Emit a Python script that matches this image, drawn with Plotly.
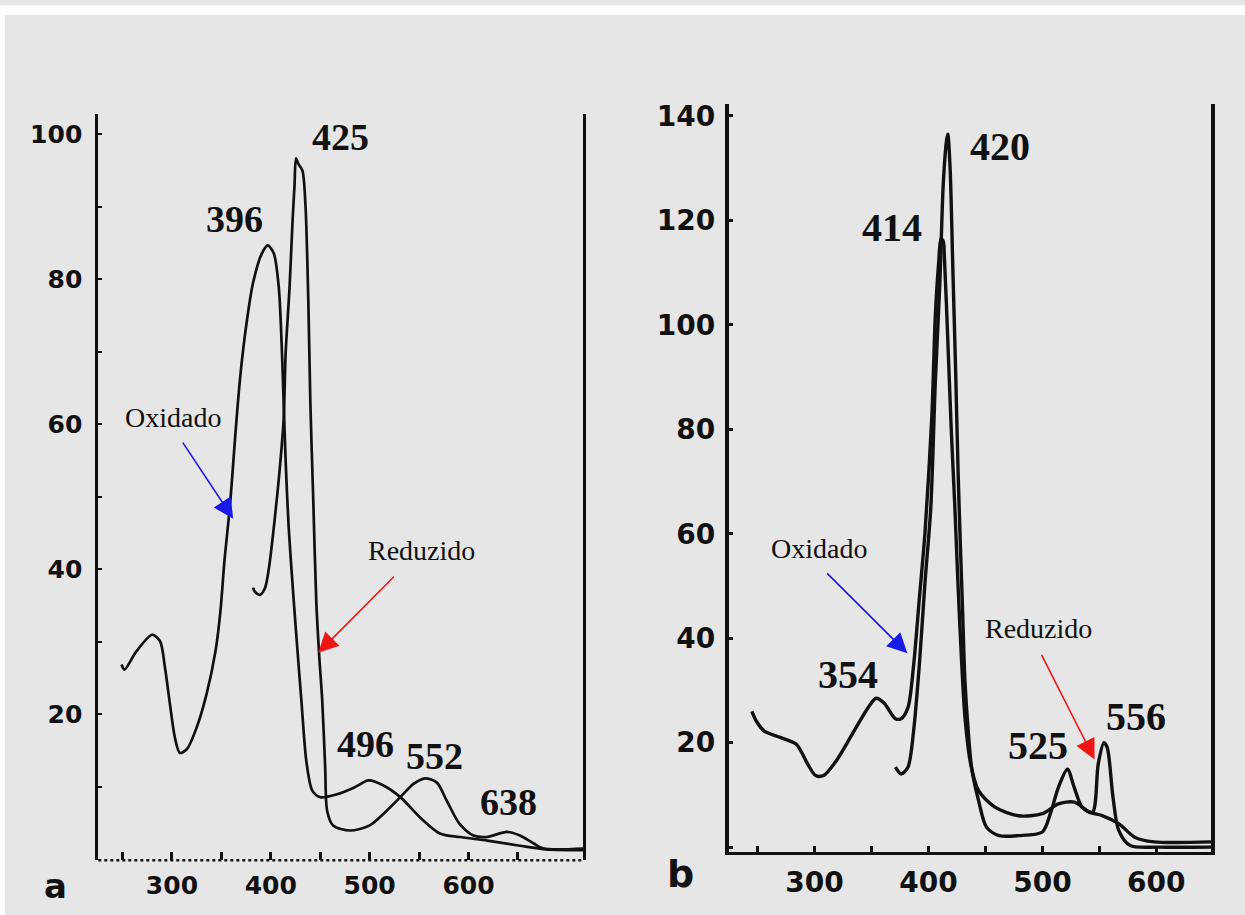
import plotly.graph_objects as go

# ---------------- data ----------------
# Panel a
a_ox_nm = [249, 252, 264, 280, 288, 293, 298, 303, 308, 315, 325, 335, 344, 349, 353, 359, 364, 369,
           375, 382, 391, 397, 403, 408, 411, 413, 415, 418, 423, 428, 431, 436, 442, 450, 467, 484,
           499, 514, 531, 551, 571, 591, 619, 652, 679, 716]
a_ox_val = [26.9, 26.2, 28.7, 31.0, 30.1, 26.4, 21.4, 16.8, 14.7, 15.2, 18.2, 22.8, 28.7, 34.2, 41.0,
            49.3, 58.4, 66.5, 73.5, 79.5, 83.6, 84.7, 83.6, 79.0, 71.0, 63.0, 55.0, 46.0, 36.0, 27.0,
            21.8, 13.5, 9.5, 8.6, 9.0, 9.9, 10.9, 10.2, 8.6, 5.8, 3.6, 3.1, 2.6, 1.9, 1.4, 1.3]
a_red_nm = [382, 384, 389, 394, 398, 404, 409, 413, 415, 419, 422, 424, 425.5, 428, 432, 435, 438, 440,
            443, 446, 449, 452, 455, 457, 463, 480, 500, 517, 531, 544, 556, 568, 578, 591, 605, 618,
            639, 652, 666, 676, 716]
a_red_val = [37.5, 36.9, 36.5, 37.4, 40.1, 47.0, 53.8, 60.7, 69.8, 79.0, 88.1, 93.0, 96.7, 95.9, 95.0,
             90.4, 76.7, 63.0, 49.3, 35.6, 28.0, 22.0, 12.7, 6.7, 4.7, 4.0, 4.7, 6.7, 8.6, 10.4, 11.2,
             10.6, 8.1, 4.9, 3.3, 3.1, 3.8, 3.3, 2.2, 1.5, 1.5]

# Panel b
b_ox_nm = [245, 249, 256, 270, 284, 294, 301, 308, 319, 333, 347, 354, 361, 371, 376, 382, 387, 392,
           397, 403, 406, 409, 411, 413, 414, 417, 420, 423, 426, 429, 432, 437, 444, 458, 479, 500,
           514, 528, 541, 553, 567, 581, 598, 648]
b_ox_val = [26.0, 24.1, 22.2, 21.0, 19.7, 15.9, 13.7, 13.7, 16.5, 21.6, 26.7, 28.5, 27.6, 24.6, 24.6,
            26.7, 34.9, 47.6, 60.3, 82.6, 101.6, 112.0, 116.5, 116.0, 113.0, 97.0, 80.0, 66.0, 50.0,
            36.0, 25.0, 16.0, 10.8, 7.7, 6.0, 6.4, 8.3, 8.6, 6.7, 6.0, 4.5, 1.9, 1.0, 1.0]
b_red_nm = [371, 376, 382, 387, 392, 397, 402, 406, 410, 413, 416, 417, 419, 421.5, 424, 426, 428, 430,
            432, 435, 438, 444, 451, 462, 479, 500, 507, 514, 522, 528, 535, 544, 549, 554, 557, 562,
            567, 577, 602, 648]
b_red_val = [15.3, 14.0, 15.3, 22.3, 34.9, 50.8, 64.8, 88.9, 108.0, 127.0, 135.5, 136.5, 130.0, 110.0,
             90.0, 72.0, 58.0, 45.0, 32.0, 22.0, 15.0, 8.9, 3.8, 2.2, 2.2, 2.9, 6.4, 11.4, 14.9, 11.4,
             7.6, 6.7, 15.9, 20.0, 19.0, 9.5, 3.2, 0.3, 0.0, 0.0]

# peak labels: (text, x, y)
a_peaks = [("425", 470.8, 99.6), ("396", 362.8, 88.4), ("496", 496, 15.9),
           ("552", 566, 14.3), ("638", 640.8, 7.9)]
b_peaks = [("420", 462.6, 134.1), ("414", 368.2, 118.7), ("354", 329.7, 33.0),
           ("525", 495.8, 19.4), ("556", 582.6, 25.1)]

# state labels and arrows: (text, text_x, text_y, tail_x, tail_y, tip_x, tip_y, colour)
a_states = [("Oxidado", 301.2, 60.9, 310, 57.7, 362, 47.0, "#1a1ae6"),
            ("Reduzido", 552, 42.6, 526, 39.2, 448, 28.5, "#f01515")]
b_states = [("Oxidado", 303.5, 57.1, 309.8, 52.7, 381.5, 37.1, "#1a1ae6"),
            ("Reduzido", 496.9, 41.9, 498.6, 37.1, 545.8, 16.8, "#f01515")]

a_xticks = [250, 300, 350, 400, 450, 500, 550, 600, 650]
a_xlabels = ["", "300", "", "400", "", "500", "", "600", ""]
a_yticks = [0, 10, 20, 30, 40, 50, 60, 70, 80, 90, 100]
a_ylabels = ["", "", "20", "", "40", "", "60", "", "80", "", "100"]
b_xticks = [250, 300, 350, 400, 450, 500, 550, 600]
b_xlabels = ["", "300", "", "400", "", "500", "", "600"]
b_yticks = [0, 20, 40, 60, 80, 100, 120, 140]
b_ylabels = ["", "20", "40", "60", "80", "100", "120", "140"]

# ---------------- figure ----------------
W, H = 1245, 915
BG = "#e6e6e6"
INK = "#111111"

fig = go.Figure()
for xs, ys, xa, ya, w in [(a_ox_nm, a_ox_val, "x", "y", 2.7), (a_red_nm, a_red_val, "x", "y", 2.7),
                          (b_ox_nm, b_ox_val, "x2", "y2", 3.4), (b_red_nm, b_red_val, "x2", "y2", 3.4)]:
    fig.add_trace(go.Scatter(x=xs, y=ys, xaxis=xa, yaxis=ya, mode="lines",
                             line=dict(color=INK, width=w, shape="spline", smoothing=0.8),
                             showlegend=False, hoverinfo="skip"))

serif = "Liberation Serif"
sans = "DejaVu Sans"
ann = []
for txt, x, y in a_peaks:
    ann.append(dict(text=txt, x=x, y=y, xref="x", yref="y", showarrow=False,
                    font=dict(family=serif, size=38, color=INK, weight="bold")))
for txt, x, y in b_peaks:
    ann.append(dict(text=txt, x=x, y=y, xref="x2", yref="y2", showarrow=False,
                    font=dict(family=serif, size=40, color=INK, weight="bold")))
for states, xr, yr in [(a_states, "x", "y"), (b_states, "x2", "y2")]:
    for txt, tx, ty, ax, ay, px, py, col in states:
        ann.append(dict(text=txt, x=tx, y=ty, xref=xr, yref=yr, showarrow=False,
                        font=dict(family=serif, size=28, color=INK)))
        ann.append(dict(text="", x=px, y=py, xref=xr, yref=yr, ax=ax, ay=ay, axref=xr, ayref=yr,
                        showarrow=True, arrowhead=2, arrowsize=2.5, arrowwidth=1.6,
                        arrowcolor=col, standoff=0))
ann.append(dict(text="a", x=55 / W, y=(H - 886) / H, xref="paper", yref="paper", showarrow=False,
                xanchor="center", yanchor="middle",
                font=dict(family=sans, size=34, color=INK, weight="bold")))
ann.append(dict(text="b", x=680 / W, y=(H - 874) / H, xref="paper", yref="paper", showarrow=False,
                xanchor="center", yanchor="middle",
                font=dict(family=sans, size=38, color=INK, weight="bold")))

axis_common = dict(showgrid=False, zeroline=False, linecolor=INK, ticks="inside", tickcolor=INK)

fig.update_layout(
    width=W, height=H, margin=dict(l=0, r=0, t=0, b=0),
    paper_bgcolor=BG, plot_bgcolor=BG, showlegend=False,
    xaxis=dict(**axis_common, domain=[98.3 / W, 583.2 / W], range=[225.5, 716], anchor="y",
               tickvals=a_xticks, ticktext=a_xlabels, ticklen=8, tickwidth=2.5,
               showline=False, ticklabelstandoff=8,
               tickfont=dict(family=sans, size=25, color=INK, weight="bold")),
    yaxis=dict(**axis_common, domain=[(H - 860) / H, (H - 110) / H], range=[-0.11, 102.76],
               anchor="x", showline=True, mirror=True, linewidth=3, tickvals=a_yticks,
               ticktext=a_ylabels, ticklen=4, tickwidth=2, ticklabelstandoff=8,
               tickfont=dict(family=sans, size=25, color=INK, weight="bold")),
    xaxis2=dict(**axis_common, domain=[728.5 / W, 1211 / W], range=[224.5, 648], anchor="y2",
                tickvals=b_xticks, ticktext=b_xlabels, ticklen=6, tickwidth=2.5, showline=True,
                linewidth=3, ticklabelstandoff=3,
                tickfont=dict(family=sans, size=28, color=INK, weight="bold")),
    yaxis2=dict(**axis_common, domain=[(H - 852) / H, (H - 100) / H], range=[-1.0, 142.2],
                anchor="x2", showline=True, mirror=True, linewidth=3.5, tickvals=b_yticks,
                ticktext=b_ylabels, ticklen=5, tickwidth=2.5, ticklabelstandoff=4,
                tickfont=dict(family=sans, size=28, color=INK, weight="bold")),
    annotations=ann,
    shapes=[
        # dotted baseline of panel a
        dict(type="line", xref="x domain", yref="y domain", x0=0, x1=1, y0=0, y1=0,
             line=dict(color=INK, width=2.5, dash="dot")),
        # white scan border
        dict(type="rect", xref="paper", yref="paper", x0=0, x1=1, y0=(H - 10) / H, y1=1,
             fillcolor="white", line=dict(width=0), layer="below"),
        dict(type="rect", xref="paper", yref="paper", x0=0, x1=5 / W, y0=0, y1=1,
             fillcolor="white", line=dict(width=0), layer="below"),
    ],
)

fig.write_html("out.html", config={"displayModeBar": False},
               post_script="document.body.style.margin='0px';")
